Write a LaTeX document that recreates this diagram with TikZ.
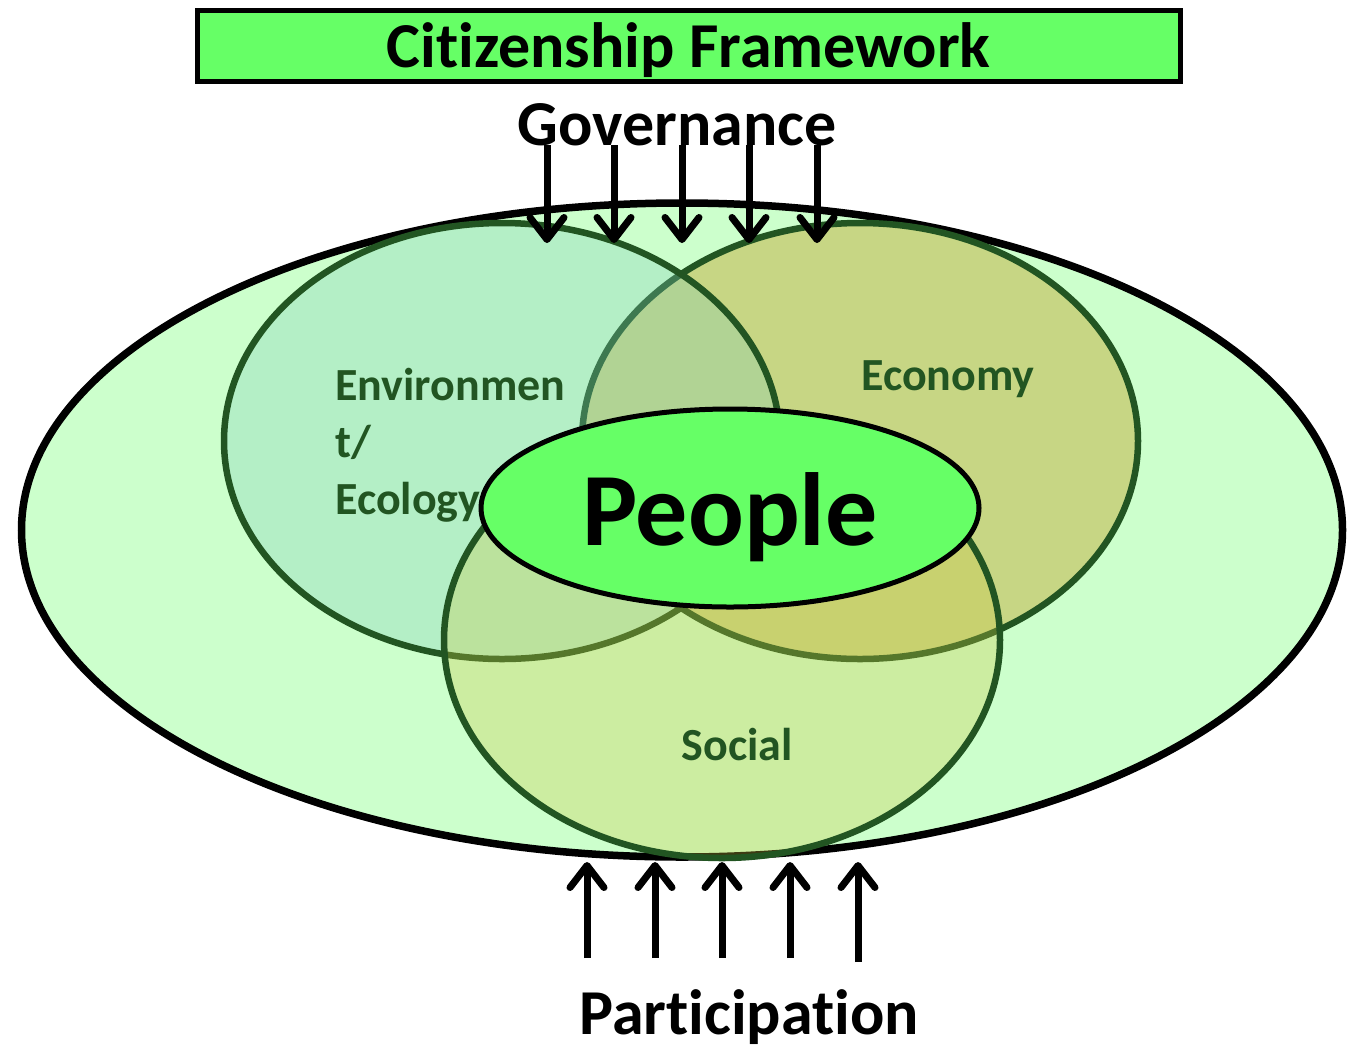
\documentclass[tikz,border=0pt]{standalone}
\usepackage{fontspec}
\setmainfont{Carlito}[Ligatures=NoCommon]
\usetikzlibrary{shapes,arrows.meta,positioning}

\definecolor{titlegreen}{RGB}{102,255,102}
\definecolor{outergreen}{RGB}{204,255,204}
\definecolor{ringgreen}{RGB}{34,85,34}
\definecolor{envfill}{RGB}{127,205,187}
\definecolor{econfill}{RGB}{197,187,84}
\definecolor{socfill}{RGB}{204,198,64}

\begin{document}
\begin{tikzpicture}[x=1pt,y=-1pt,
  sphere/.style={ellipse,draw=ringgreen,line width=6.5pt,fill opacity=0.3,
    minimum width=556pt,minimum height=436pt,inner sep=0pt},
  lbl/.style={text=ringgreen,inner sep=0pt,font=\fontsize{46}{57}\selectfont\bfseries},
  bigtxt/.style={inner sep=0pt,font=\fontsize{64}{78}\selectfont\bfseries},
  flow/.style={line width=7pt,-{Straight Barb[length=22pt,width=34pt,line cap=round,line join=round]}}]

\useasboundingbox (0,0) rectangle (1351,1050);

% heading
\node[draw,line width=5pt,fill=titlegreen,minimum width=983pt,minimum height=71pt,
  inner sep=0pt,text depth=0pt,font=\fontsize{64}{78}\selectfont\bfseries] (title) at (688.5,45.5) {Citizenship Framework};
\node[bigtxt,anchor=base] (gov) at (677,145) {Governance};

% the whole frame
\node[ellipse,draw,line width=7.5pt,fill=outergreen,minimum width=1321pt,
  minimum height=654pt,inner sep=0pt] (world) at (682,530) {};

% three spheres (economy first, environment over it, social on top)
\node[sphere,fill=econfill,fill opacity=0.6] (econ) at (860,441) {};
\node[sphere,fill=envfill] (env) at (502,441) {};
\node[sphere,fill=socfill] (soc) at (722,640) {};

\node[lbl,anchor=base west,align=left] (envlbl) at (335,514) {Environmen\\t/\\Ecology};
\node[lbl,anchor=base] (econlbl) at (948,390) {Economy};
\node[lbl,anchor=base] (soclbl) at (737,760) {Social};

% people in the middle
\node[ellipse,draw,line width=5pt,fill=titlegreen,minimum width=498pt,
  minimum height=198pt,inner sep=0pt] (people) at (730,508) {};
\node[anchor=base,inner sep=0pt,font=\fontsize{104}{120}\selectfont\bfseries] (peoplelbl) at (730,545) {People};

% governance arrows coming down
\foreach \gx [count=\i] in {547,614,682,749,817}
{
  \coordinate (gtop\i) at (\gx,145);
  \coordinate (gtip\i) at (\gx,243);
  \draw[flow] (gtop\i) -- (gtip\i);
}

% participation arrows going up
\foreach \px/\pb [count=\i] in {587/958,655/958,722/958,790/958,858/962}
{
  \coordinate (pbot\i) at (\px,\pb);
  \coordinate (ptip\i) at (\px,862);
  \draw[flow] (pbot\i) -- (ptip\i);
}

\node[bigtxt,anchor=base] (part) at (749,1034) {Participation};

\end{tikzpicture}
\end{document}
